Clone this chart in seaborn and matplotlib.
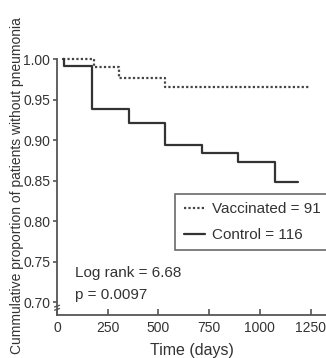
import numpy as np
import pandas as pd
import seaborn as sns
import matplotlib.pyplot as plt

# Kaplan-Meier step data
vacc_time = [30, 182, 307, 534, 1248]
vacc_surv = [1.000, 0.990, 0.977, 0.965, 0.965]
ctrl_time = [30, 33, 171, 357, 531, 717, 894, 1073, 1187]
ctrl_surv = [1.000, 0.991, 0.938, 0.921, 0.894, 0.884, 0.873, 0.848, 0.848]

vacc = pd.DataFrame({'time': vacc_time, 'surv': vacc_surv})
ctrl = pd.DataFrame({'time': ctrl_time, 'surv': ctrl_surv})

sns.set_style('ticks')
plt.rcParams['font.family'] = ['Liberation Sans', 'DejaVu Sans']

fig = plt.figure(figsize=(3.26, 3.58), dpi=100)
ax = fig.add_axes([0.175, 0.120, 0.825, 0.7235])

sns.lineplot(data=vacc, x='time', y='surv', ax=ax, drawstyle='steps-post',
             color='#444444', lw=1.6, ls=(0, (1, 1)), label='Vaccinated = 91')
sns.lineplot(data=ctrl, x='time', y='surv', ax=ax, drawstyle='steps-post',
             color='#333333', lw=1.6, label='Control = 116')

ax.set_xlim(0, 1326)
ax.set_ylim(0.684, 1.0037)
ax.set_xticks([0, 250, 500, 750, 1000, 1250])
ax.set_yticks([0.70, 0.75, 0.80, 0.85, 0.90, 0.95, 1.00])
ax.yaxis.set_major_formatter(plt.FormatStrFormatter('%.2f'))
ax.spines['left'].set_bounds(0.684, 1.0)
sns.despine(ax=ax)
for s in ['left', 'bottom']:
    ax.spines[s].set_color('#555555')
    ax.spines[s].set_linewidth(1.3)
ax.tick_params(axis='x', direction='in', length=4, width=1.2, color='#555555',
               labelsize=10, pad=4, labelcolor='#333333')
ax.tick_params(axis='y', direction='out', length=3, width=1.2, color='#555555',
               labelsize=10, pad=2, labelcolor='#333333')

# small axis-break mark near the bottom of the y axis
ax.plot([-12, 12], [0.690, 0.692], color='#555555', lw=1, clip_on=False)
ax.plot([-12, 12], [0.694, 0.696], color='#555555', lw=1, clip_on=False)

ax.set_xlabel('Time (days)', fontsize=11.5, color='#333333', labelpad=6)
ax.set_ylabel('Cummulative proportion of patients without pneumonia',
              fontsize=10, color='#333333', labelpad=-1)

ax.text(89, 0.736, 'Log rank = 6.68', fontsize=11, color='#333333', va='center')
ax.text(89, 0.709, 'p = 0.0097', fontsize=11, color='#333333', va='center')

leg = ax.legend(loc='upper left', bbox_to_anchor=(0.439, 0.467), fontsize=11,
                frameon=True, fancybox=False, borderaxespad=0, handlelength=1.4,
                handletextpad=0.45, labelspacing=0.75, borderpad=0.55)
leg.get_frame().set_edgecolor('#444444')
leg.get_frame().set_linewidth(1.2)
for t in leg.get_texts():
    t.set_color('#333333')

fig.savefig('out.png', dpi=100)
